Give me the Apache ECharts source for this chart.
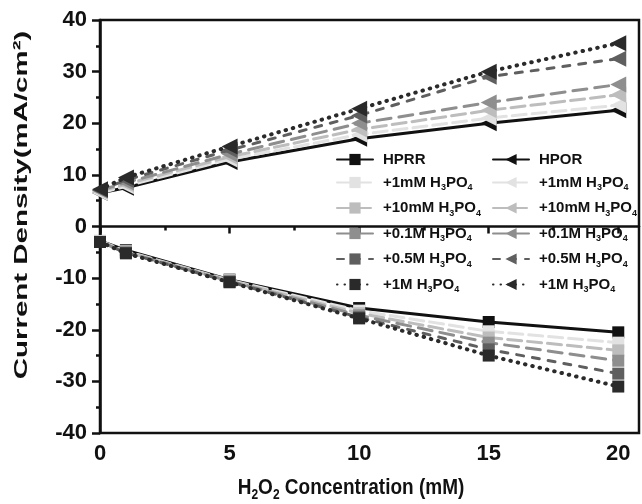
<!DOCTYPE html>
<html><head><meta charset="utf-8">
<script src="https://cdn.jsdelivr.net/npm/echarts@6/dist/echarts.min.js"></script>
<style>html,body{margin:0;padding:0;background:#fff}#c{width:642px;height:504px}</style>
</head><body><div id="c"></div>
<script>
const concentrations = [0, 1, 5, 10, 15, 20];
const xTickValues = [0, 5, 10, 15, 20];
const additiveLabels = ['', '+1mM H3PO4', '+10mM H3PO4', '+0.1M H3PO4', '+0.5M H3PO4', '+1M H3PO4'];

// HPRR (reduction current, negative)
const hprrNone = [-2.8, -4.6, -10.3, -15.8, -18.5, -20.5];
const hprr1mM  = [-2.8, -4.8, -10.4, -16.3, -20.3, -22.5];
const hprr10mM = [-2.9, -4.9, -10.5, -16.8, -21.5, -24.0];
const hprr01M  = [-3.0, -5.0, -10.6, -17.2, -22.5, -26.0];
const hprr05M  = [-3.0, -5.1, -10.7, -17.6, -23.8, -28.5];
const hprr1M   = [-3.0, -5.2, -10.8, -17.8, -25.0, -31.0];

// HPOR (oxidation current, positive)
const hporNone = [6.5, 7.5, 12.5, 17.0, 20.0, 22.5];
const hpor1mM  = [6.5, 7.8, 13.0, 17.8, 21.0, 23.5];
const hpor10mM = [6.8, 8.2, 13.5, 18.8, 22.5, 25.5];
const hpor01M  = [7.0, 8.5, 14.0, 20.0, 24.0, 27.5];
const hpor05M  = [7.0, 9.0, 14.8, 21.5, 29.0, 32.5];
const hpor1M   = [7.2, 9.5, 15.5, 22.8, 30.0, 35.5];

const hprrSets = [hprrNone, hprr1mM, hprr10mM, hprr01M, hprr05M, hprr1M];
const hporSets = [hporNone, hpor1mM, hpor10mM, hpor01M, hpor05M, hpor1M];

const colors = ['#111111', '#e2e2e2', '#bdbdbd', '#8e8e8e', '#5f5f5f', '#2a2a2a'];
const dashes = ['solid', [14, 6], [14, 6], [14, 8], [7, 9], [0.5, 7]];
const widths = [3, 3, 3, 3, 3, 4];

const FONT = '"Liberation Sans", Arial, sans-serif';

function pairs(vals) { return concentrations.map((x, i) => [x, vals[i]]); }

function makeSeries(prefix, sets, symbol, size, rot) {
  return sets.map((vals, i) => ({
    name: i === 0 ? prefix : prefix + ' ' + additiveLabels[i],
    type: 'line',
    data: pairs(vals),
    symbol: symbol,
    symbolSize: size,
    symbolRotate: rot,
    showSymbol: true,
    showAllSymbol: true,
    color: colors[i],
    itemStyle: { color: colors[i] },
    lineStyle: { color: colors[i], width: widths[i], type: dashes[i], cap: 'round' },
    z: 2 + i
  }));
}

const series = [].concat(
  makeSeries('HPRR', hprrSets, 'rect', 12, 0),
  makeSeries('HPOR', hporSets, 'triangle', 16, 90)
);

function legendFmt(name) {
  let label = name;
  if (name.indexOf(' ') > 0) label = name.slice(5);
  const m = label.match(/^(.*H)3PO4$/);
  if (m) return '{t|' + m[1] + '}{s|3}{t|PO}{s|4}';
  return '{t|' + label + '}';
}

const legendRich = {
  t: { fontSize: 15, fontWeight: 'bold', fontFamily: FONT, color: '#111', lineHeight: 20 },
  s: { fontSize: 9, fontWeight: 'bold', fontFamily: FONT, color: '#111', lineHeight: 20, verticalAlign: 'bottom' }
};

function makeLegend(prefix, left) {
  return {
    orient: 'vertical',
    left: left,
    top: 147,
    itemWidth: 36,
    itemHeight: 14,
    itemGap: 8,
    data: series.filter(s => s.name.indexOf(prefix) === 0).map(s => s.name),
    formatter: legendFmt,
    textStyle: { padding: [0, 0, 0, 5], rich: legendRich },
    selectedMode: false
  };
}

const chart = echarts.init(document.getElementById('c'), null, { renderer: 'canvas' });
chart.setOption({
  animation: false,
  backgroundColor: '#fff',
  grid: { left: 100, right: 3, top: 20, bottom: 71, show: true, borderColor: '#111', borderWidth: 2.5 },
  xAxis: {
    type: 'value', min: 0, max: 20.8, interval: 5,
    axisLine: { lineStyle: { color: '#111', width: 2.5 } },
    axisTick: { show: true, inside: false, length: 7, lineStyle: { width: 2.5, color: '#111' }, customValues: xTickValues },
    minorTick: { show: true, splitNumber: 2, length: 4, lineStyle: { width: 2.5, color: '#111' } },
    axisLabel: { fontSize: 22, fontWeight: 'bold', fontFamily: FONT, color: '#111', margin: 10, customValues: xTickValues },
    splitLine: { show: false }
  },
  yAxis: {
    type: 'value', min: -40, max: 40, interval: 10,
    axisLine: { show: true, lineStyle: { color: '#111', width: 2.5 } },
    axisTick: { show: true, inside: false, length: 8, lineStyle: { width: 2.5, color: '#111' } },
    minorTick: { show: true, splitNumber: 2, length: 4, lineStyle: { width: 2.5, color: '#111' } },
    axisLabel: { fontSize: 22, fontWeight: 'bold', fontFamily: FONT, color: '#111', margin: 13 },
    splitLine: { show: false }
  },
  legend: [makeLegend('HPRR', 331), makeLegend('HPOR', 487)],
  graphic: [
    {
      type: 'text', x: 22, y: 205, rotation: Math.PI / 2, scaleX: 1.55,
      style: { text: 'Current Density(mA/cm²)', font: 'bold 19px ' + FONT, fill: '#111', align: 'center', verticalAlign: 'middle' }
    },
    {
      type: 'text', x: 351, y: 488, scaleY: 1.2,
      style: {
        text: '{t|H}{s|2}{t|O}{s|2}{t| Concentration (mM)}',
        align: 'center', verticalAlign: 'middle',
        rich: {
          t: { font: 'bold 19px ' + FONT, fill: '#111', lineHeight: 24 },
          s: { font: 'bold 12px ' + FONT, fill: '#111', lineHeight: 24, verticalAlign: 'bottom' }
        }
      }
    }
  ],
  series: series
});
</script>
</body></html>
